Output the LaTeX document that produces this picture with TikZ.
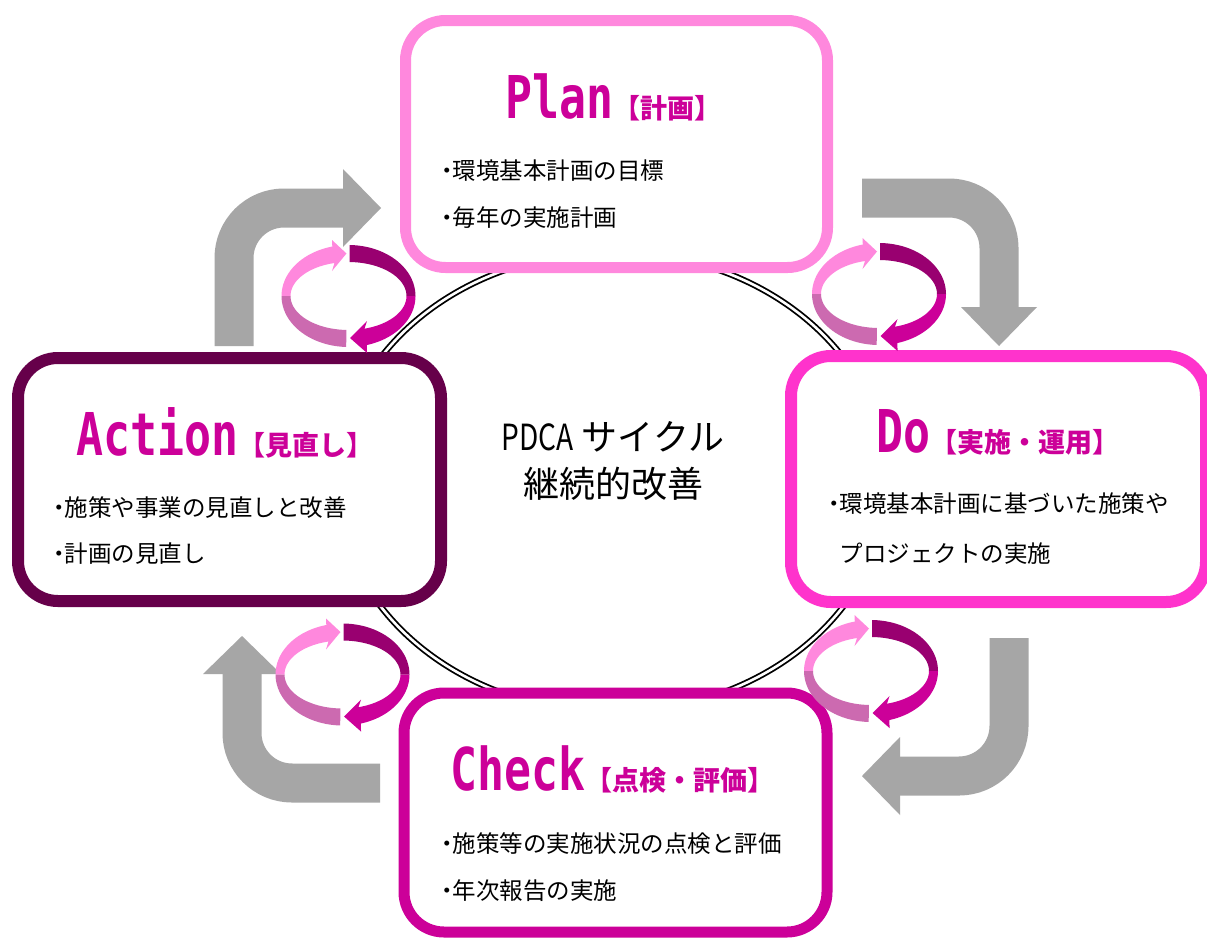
\documentclass[tikz,border=0pt]{standalone}
\usepackage{graphicx}
\usepackage{fontspec}
\setmainfont{Noto Sans CJK JP}
\newfontfamily\titlefont[FakeStretch=0.76]{DejaVu Sans Mono Bold}
\usetikzlibrary{shapes.geometric}
\definecolor{planc}{HTML}{FF88DD}
\definecolor{actc}{HTML}{66004A}
\definecolor{doc}{HTML}{FF33CC}
\definecolor{checkc}{HTML}{CC0099}
\definecolor{titlec}{HTML}{CC0099}
\definecolor{grayc}{HTML}{A6A6A6}
\definecolor{ringA}{HTML}{FF88DD}
\definecolor{ringB}{HTML}{990070}
\definecolor{ringC}{HTML}{CC0099}
\definecolor{ringD}{HTML}{CC6AB0}
\tikzset{
  box/.style={rectangle, rounded corners=40, line width=11, fill=white, inner sep=0},
  body/.style={anchor=base west, inner sep=0, font=\fontsize{23.5}{23.5}\selectfont, text=black},
  ttl/.style={anchor=base west, inner sep=0, text=titlec},
  center/.style={anchor=base, inner sep=0, font=\fontsize{36}{36}\selectfont, text=black},
  gshaft/.style={draw=grayc, line width=39, rounded corners=50},
  ghead/.style={fill=grayc},
}
\newcommand\bdot{\makebox[0.5em][c]{・}}
\newcommand\ttlA[1]{{\titlefont\fontsize{59}{59}\selectfont #1}}
\newcommand\ttlB[1]{{\bfseries\fontsize{27}{27}\selectfont #1}}
\newcommand\ringpair[2]{%
  \fill[ringA] plot[domain=180:104,samples=24] ({#1+67*cos(\x)},{#2-51*sin(\x)})
     -- ({#1-16.5},{#2-56}) -- ({#1-2},{#2-42.5}) -- ({#1-16.5},{#2-25})
     -- plot[domain=104:180,samples=24] ({#1+58*cos(\x)},{#2-34*sin(\x)}) -- cycle;
  \fill[ringB] plot[domain=89:0,samples=24] ({#1+67*cos(\x)},{#2-51*sin(\x)})
     -- plot[domain=0:89,samples=24] ({#1+58*cos(\x)},{#2-34*sin(\x)}) -- cycle;
  \fill[ringC] plot[domain=0:-74,samples=24] ({#1+67*cos(\x)},{#2-51*sin(\x)})
     -- ({#1+18.5},{#2+57}) -- ({#1+1.5},{#2+42}) -- ({#1+18.5},{#2+25})
     -- plot[domain=-74:0,samples=24] ({#1+58*cos(\x)},{#2-34*sin(\x)}) -- cycle;
  \fill[ringD] plot[domain=-92:-180,samples=24] ({#1+67*cos(\x)},{#2-51*sin(\x)})
     -- plot[domain=-180:-92,samples=24] ({#1+58*cos(\x)},{#2-34*sin(\x)}) -- cycle;
}
\begin{document}
\begin{tikzpicture}[x=1pt,y=-1pt]
\useasboundingbox[fill=white] (0,0) rectangle (1207,940);
% central double ellipse
\node[ellipse, draw=black, line width=1.8, double=white, double distance=2.6,
      minimum width=550, minimum height=460, inner sep=0] (ring) at (612,482) {};
% gray bent arrows
\coordinate (g1a) at (234,346); \coordinate (g1b) at (234,208); \coordinate (g1c) at (344,208);
\draw[gshaft] (g1a) -- (g1b) -- (g1c);
\fill[ghead] (343,169) -- (381,208) -- (343,247) -- cycle;
\coordinate (g2a) at (862,198); \coordinate (g2b) at (999,198); \coordinate (g2c) at (999,308);
\draw[gshaft] (g2a) -- (g2b) -- (g2c);
\fill[ghead] (961,307) -- (999,346) -- (1037,307) -- cycle;
\coordinate (g3a) at (1009,638); \coordinate (g3b) at (1009,776); \coordinate (g3c) at (899,776);
\draw[gshaft] (g3a) -- (g3b) -- (g3c);
\fill[ghead] (900,737) -- (862,776) -- (900,815) -- cycle;
\coordinate (g4a) at (380,783); \coordinate (g4b) at (242,783); \coordinate (g4c) at (242,673);
\draw[gshaft] (g4a) -- (g4b) -- (g4c);
\fill[ghead] (203,674) -- (242,636) -- (281,674) -- cycle;
% boxes
\node[box, draw=planc, minimum width=422, minimum height=247] (plan) at (616.5,144) {};
\node[box, draw=actc, line width=12, minimum width=423, minimum height=243] (action) at (229.5,479.5) {};
\node[box, draw=doc, line width=12, minimum width=415, minimum height=246] (do) at (998.5,479) {};
\node[box, draw=checkc, minimum width=423, minimum height=239] (check) at (615.5,812.5) {};
% rotating arrow pairs
\ringpair{348.5}{296}
\ringpair{879}{294}
\ringpair{342.5}{674.5}
\ringpair{871}{671}
% titles
\node[ttl] (plant) at (505,118) {\ttlA{Plan}\ttlB{【計画】}};
\node[ttl] (actiont) at (76,455) {\ttlA{Action}\ttlB{【見直し】}};
\node[ttl] (dot) at (876,452) {\ttlA{Do}\ttlB{【実施・運用】}};
\node[ttl] (checkt) at (450,790) {\ttlA{Check}\ttlB{【点検・評価】}};
% body texts
\node[body] (plan1) at (441,179) {\bdot 環境基本計画の目標};
\node[body] (plan2) at (441,226) {\bdot 毎年の実施計画};
\node[body] (act1) at (53,516) {\bdot 施策や事業の見直しと改善};
\node[body] (act2) at (53,562) {\bdot 計画の見直し};
\node[body] (do1) at (828,512) {\bdot 環境基本計画に基づいた施策や};
\node[body] (do2) at (828,562) {\hspace{0.5em}プロジェクトの実施};
\node[body] (chk1) at (441,852) {\bdot 施策等の実施状況の点検と評価};
\node[body] (chk2) at (441,899) {\bdot 年次報告の実施};
% center
\node[center] (c1) at (613,450) {\scalebox{0.78}[1]{PDCA} サイクル};
\node[center] (c2) at (613,497) {継続的改善};
\end{tikzpicture}
\end{document}
